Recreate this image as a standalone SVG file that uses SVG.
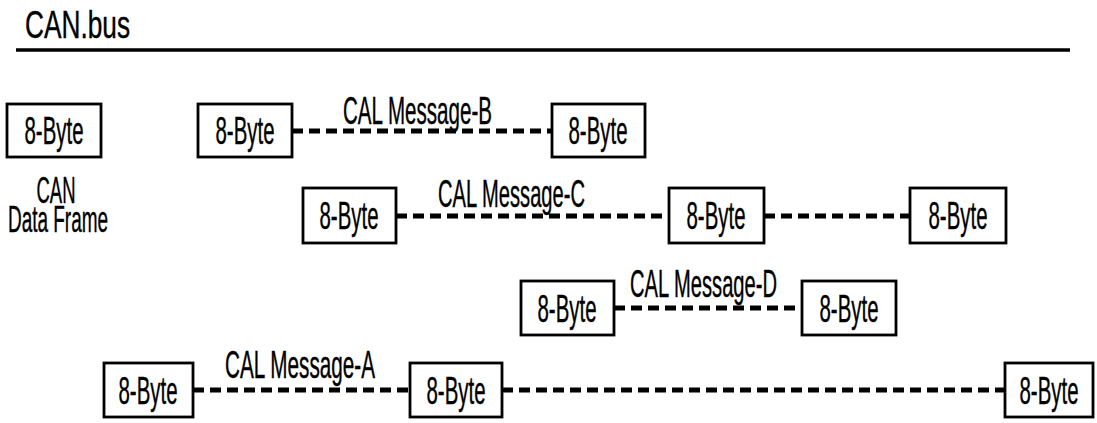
<svg xmlns="http://www.w3.org/2000/svg" width="1097" height="423" viewBox="0 0 1097 423">
<style>
.bg{fill:#fff}
.box{fill:#fff;stroke:#000;stroke-width:2.8}
.t{font-family:"Liberation Sans",Arial,sans-serif;font-size:39px;fill:#000;stroke:#000;stroke-width:0.4}
.s{font-size:36px}
.m{text-anchor:middle}
.dash{stroke:#000;stroke-width:5;stroke-dasharray:11 6;fill:none}
</style>
<rect class="bg" x="0" y="0" width="1097" height="423"/>
<g id="header">
<text class="t" x="25" y="38" textLength="105" lengthAdjust="spacingAndGlyphs">CAN.bus</text>
<line x1="16" y1="50" x2="1070" y2="50" stroke="#000" stroke-width="3.5"/>
</g>
<g id="connectors">
<line class="dash" x1="292" y1="131" x2="552" y2="131"/>
<line class="dash" x1="396" y1="216" x2="669" y2="216"/>
<line class="dash" x1="764" y1="216" x2="910" y2="216"/>
<line class="dash" x1="614" y1="308" x2="802" y2="308"/>
<line class="dash" x1="193" y1="390" x2="410" y2="390"/>
<line class="dash" x1="502" y1="390" x2="1005" y2="390"/>
</g>
<g id="labels">
<text class="t" x="343" y="124" textLength="149" lengthAdjust="spacingAndGlyphs">CAL Message-B</text>
<text class="t" x="438" y="207" textLength="147" lengthAdjust="spacingAndGlyphs">CAL Message-C</text>
<text class="t" x="630" y="297" textLength="147" lengthAdjust="spacingAndGlyphs">CAL Message-D</text>
<text class="t" x="225" y="378" textLength="150" lengthAdjust="spacingAndGlyphs">CAL Message-A</text>
</g>
<g id="frame">
<rect class="box" x="7" y="104" width="94" height="53"/>
<text class="t m" x="54" y="144" textLength="59" lengthAdjust="spacingAndGlyphs">8-Byte</text>
<text class="t s m" x="56" y="203" textLength="39" lengthAdjust="spacingAndGlyphs">CAN</text>
<text class="t s m" x="58" y="232" textLength="100" lengthAdjust="spacingAndGlyphs">Data Frame</text>
</g>
<g id="B1"><rect class="box" x="198" y="104" width="94" height="53"/><text class="t m" x="245" y="144" textLength="59" lengthAdjust="spacingAndGlyphs">8-Byte</text></g>
<g id="B2"><rect class="box" x="552" y="104" width="93" height="53"/><text class="t m" x="598" y="144" textLength="59" lengthAdjust="spacingAndGlyphs">8-Byte</text></g>
<g id="C1"><rect class="box" x="303" y="188" width="93" height="55"/><text class="t m" x="349" y="229" textLength="59" lengthAdjust="spacingAndGlyphs">8-Byte</text></g>
<g id="C2"><rect class="box" x="669" y="188" width="95" height="55"/><text class="t m" x="716" y="229" textLength="59" lengthAdjust="spacingAndGlyphs">8-Byte</text></g>
<g id="C3"><rect class="box" x="910" y="188" width="96" height="55"/><text class="t m" x="958" y="229" textLength="59" lengthAdjust="spacingAndGlyphs">8-Byte</text></g>
<g id="D1"><rect class="box" x="521" y="281" width="93" height="54"/><text class="t m" x="567" y="322" textLength="59" lengthAdjust="spacingAndGlyphs">8-Byte</text></g>
<g id="D2"><rect class="box" x="802" y="281" width="94" height="54"/><text class="t m" x="849" y="322" textLength="59" lengthAdjust="spacingAndGlyphs">8-Byte</text></g>
<g id="A1"><rect class="box" x="104" y="363" width="89" height="54"/><text class="t m" x="148" y="404" textLength="59" lengthAdjust="spacingAndGlyphs">8-Byte</text></g>
<g id="A2"><rect class="box" x="410" y="363" width="92" height="54"/><text class="t m" x="456" y="404" textLength="59" lengthAdjust="spacingAndGlyphs">8-Byte</text></g>
<g id="A3"><rect class="box" x="1005" y="363" width="88" height="54"/><text class="t m" x="1049" y="404" textLength="59" lengthAdjust="spacingAndGlyphs">8-Byte</text></g>
</svg>
